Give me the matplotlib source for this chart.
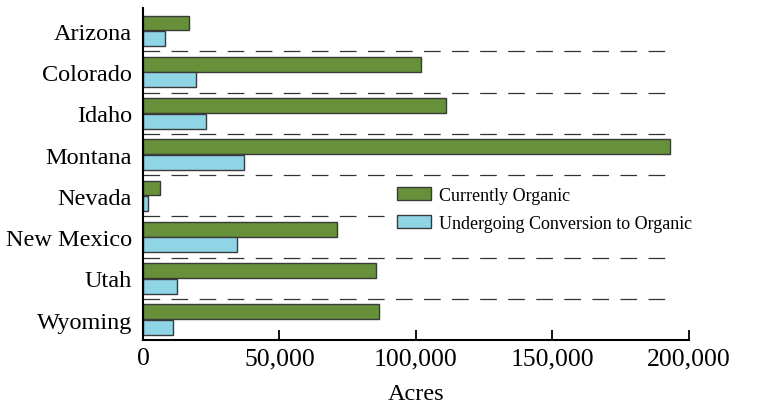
import numpy as np
import matplotlib.pyplot as plt

plt.rcParams['font.family'] = ['Liberation Serif', 'DejaVu Serif']
plt.rcParams['lines.scale_dashes'] = False

# ----- data (acres) -----
states = ['Arizona', 'Colorado', 'Idaho', 'Montana', 'Nevada',
          'New Mexico', 'Utah', 'Wyoming']
organic = [17000, 102000, 111000, 193000, 6200, 71000, 85500, 86500]
conversion = [8000, 19500, 23000, 37000, 1800, 34500, 12500, 11000]
xticks = [0, 50000, 100000, 150000, 200000]
xticklabels = ['0', '50,000', '100,000', '150,000', '200,000']

green = '#67903b'
blue = '#8fd5e6'

fig = plt.figure(figsize=(7.71, 4.14), dpi=100)
ax = fig.add_axes([0.1855, 0.176, 0.708, 0.802])

y = np.arange(len(states))
h = 0.36
ax.barh(y - 0.19, organic, height=h, color=green, edgecolor='#3a3a3a',
        linewidth=1, label='Currently Organic')
ax.barh(y + 0.19, conversion, height=h, color=blue, edgecolor='#3a3a3a',
        linewidth=1, label='Undergoing Conversion to Organic')

# dashed separators between states
for b in y[:-1] + 0.5:
    ax.plot([0, 192800], [b, b], color='#333333', lw=0.9,
            linestyle=(0, (12, 8.2)), zorder=0)

ax.set_ylim(len(states) - 0.5, -0.55)
ax.set_xlim(0, 200000)

ax.set_yticks(y)
ax.set_yticklabels(states, fontsize=17.5)
ax.tick_params(axis='y', length=0, pad=8)

ax.set_xticks(xticks)
ax.set_xticklabels(xticklabels, fontsize=18.5)
ax.tick_params(axis='x', direction='in', length=7, width=1.3, pad=5)
ax.set_xlabel('Acres', fontsize=17.5, labelpad=10)

for s in ['top', 'right']:
    ax.spines[s].set_visible(False)
for s in ['left', 'bottom']:
    ax.spines[s].set_linewidth(1.5)

leg = ax.legend(loc='upper left', bbox_to_anchor=(0.435, 0.51), frameon=True,
                fancybox=False, facecolor='white', edgecolor='none',
                framealpha=1, fontsize=13, handlelength=1.9,
                handleheight=0.75, handletextpad=0.45, labelspacing=0.6)

fig.savefig('out.png', dpi=100)
